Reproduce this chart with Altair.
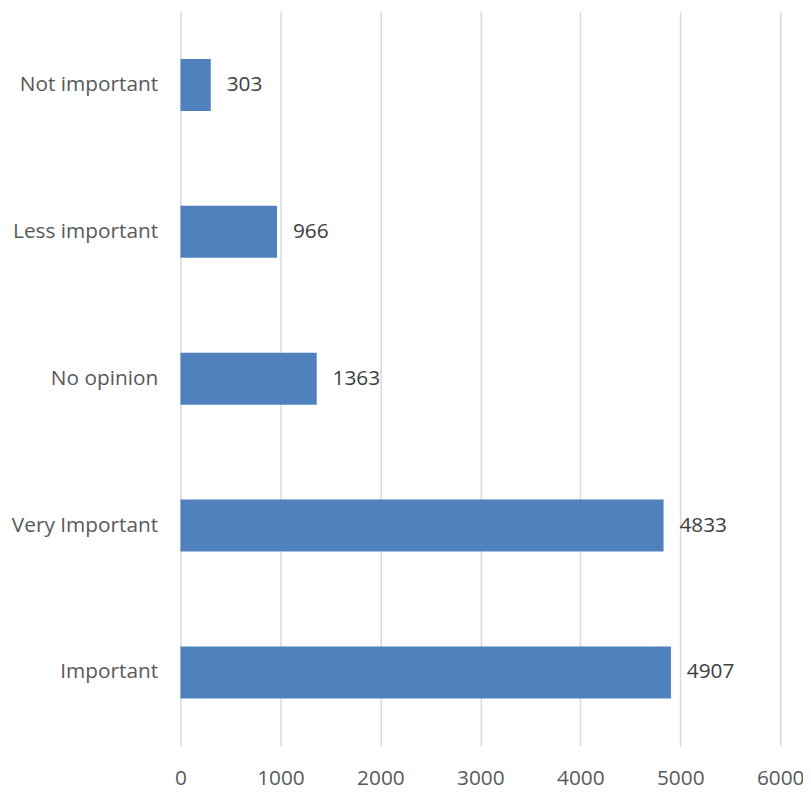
import altair as alt
import pandas as pd

categories = ["Not important", "Less important", "No opinion", "Very Important", "Important"]
values = [303, 966, 1363, 4833, 4907]

df = pd.DataFrame({"category": categories, "value": values})

FONT = "Open Sans"

y_enc = alt.Y(
    "category:N",
    sort=categories,
    title=None,
    scale=alt.Scale(paddingInner=0.646, paddingOuter=0.323),
    axis=alt.Axis(domain=False, ticks=False, labelPadding=23, labelFontSize=21,
                  labelColor="#595959", labelFont=FONT, grid=False, labelLimit=300),
)
x_enc = alt.X(
    "value:Q",
    title=None,
    scale=alt.Scale(domain=[0, 6000], nice=False),
    axis=alt.Axis(values=[0, 1000, 2000, 3000, 4000, 5000, 6000], format="d", domain=False, ticks=False,
                  labelPadding=22, labelFontSize=21, labelColor="#595959", labelFont=FONT,
                  grid=True, gridColor="#D9D9D9", gridWidth=1.5, labelFlush=False),
)

bars = alt.Chart(df).mark_bar(color="#4F81BD").encode(x=x_enc, y=y_enc)
labels = alt.Chart(df).mark_text(align="left", baseline="middle", dx=16, fontSize=21,
                                  font=FONT, color="#404040").encode(
    x="value:Q", y=alt.Y("category:N", sort=categories), text="value:Q")

chart = (bars + labels).properties(
    width=605, height=741,
    autosize=alt.AutoSizeParams(type="none"),
    padding={"left": 174, "top": 0, "right": 23, "bottom": 45},
).configure_view(stroke=None)

chart.save("out.html", embed_options={"renderer": "svg", "actions": False})
